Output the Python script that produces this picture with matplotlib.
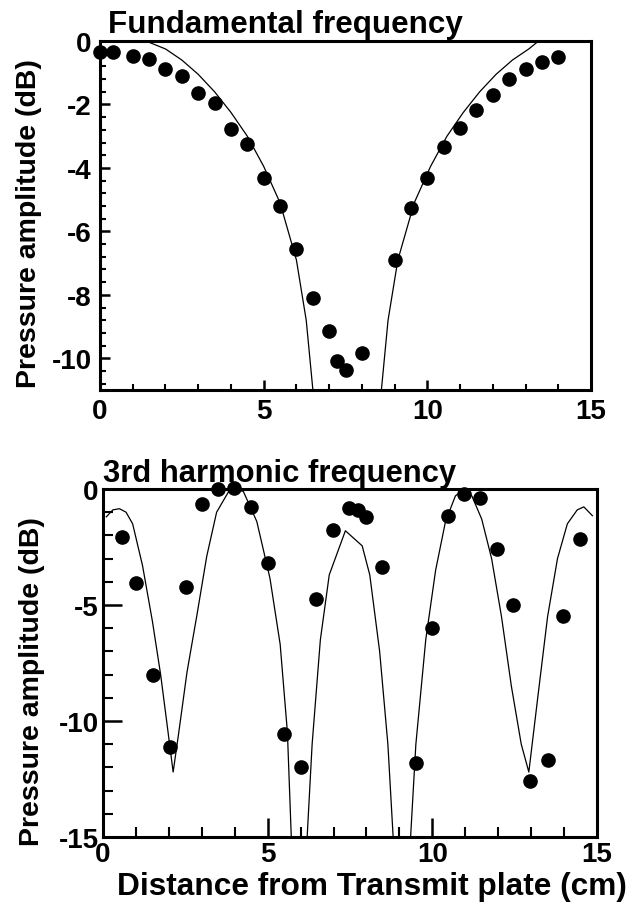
# Fundamental / 3rd harmonic pressure amplitude vs distance

import numpy as np
import matplotlib.pyplot as plt
from matplotlib.ticker import MultipleLocator

plt.rcParams['font.family'] = ['Liberation Sans', 'DejaVu Sans']
plt.rcParams['font.weight'] = 'bold'
plt.rcParams['axes.unicode_minus'] = False

# measured points, fundamental
x_fund = [0, 0.4, 1.0, 1.5, 2.0, 2.5, 3.0, 3.5, 4.0, 4.5, 5.0, 5.5, 6.0, 6.5, 7.0, 7.25, 7.5, 8.0,
          9.0, 9.5, 10.0, 10.5, 11.0, 11.5, 12.0, 12.5, 13.0, 13.5, 14.0]
y_fund = [-0.35, -0.35, -0.47, -0.57, -0.89, -1.1, -1.65, -1.96, -2.78, -3.26, -4.33, -5.19, -6.55,
          -8.1, -9.15, -10.1, -10.38, -9.84, -6.9, -5.25, -4.33, -3.35, -2.75, -2.18, -1.71, -1.2,
          -0.89, -0.66, -0.5]
# theory curve, fundamental
xt_fund = [0, 1.4, 2.0, 2.5, 3.0, 3.5, 4.0, 4.5, 5.0, 5.5, 6.0, 6.3, 6.55, np.nan,
           8.55, 8.8, 9.1, 9.6, 10.1, 10.6, 11.1, 11.6, 12.1, 12.6, 13.1, 13.4, 15]
yt_fund = [0, 0, -0.25, -0.6, -1.05, -1.6, -2.25, -3.0, -3.95, -5.1, -6.9, -8.8, -11.5, np.nan,
           -11.5, -8.8, -6.9, -5.1, -3.95, -3.0, -2.25, -1.6, -1.05, -0.6, -0.25, 0, 0]

# measured points, 3rd harmonic
x_harm = [0.58, 1.0, 1.52, 2.02, 2.52, 3.0, 3.48, 3.98, 4.5, 5.0, 5.5, 6.02, 6.47, 6.97, 7.48, 7.74,
          7.99, 8.48, 9.51, 9.99, 10.48, 10.97, 11.46, 11.97, 12.46, 12.98, 13.5, 13.98, 14.47]
y_harm = [-2.06, -4.05, -8.0, -11.1, -4.22, -0.65, 0.02, 0.05, -0.77, -3.2, -10.56, -11.97, -4.75,
          -1.76, -0.82, -0.92, -1.2, -3.35, -11.8, -5.97, -1.15, -0.23, -0.37, -2.6, -5.0, -12.6,
          -11.7, -5.47, -2.15]
# theory curve, 3rd harmonic
xt_harm = [0.1, 0.3, 0.5, 0.7, 0.9, 1.2, 1.5, 1.75, 1.95, 2.13, 2.3, 2.55, 2.85, 3.15, 3.45, 3.86,
           4.26, 4.67, 5.07, 5.38, 5.6, 5.73, np.nan, 6.18, 6.35, 6.6, 6.87, 7.36, 7.87, 8.1, 8.4,
           8.65, 8.83, np.nan, 9.32, 9.5, 9.8, 10.1, 10.4, 10.7, 10.95, 11.2, 11.5, 11.8, 12.1,
           12.4, 12.7, 12.93, 13.2, 13.5, 13.8, 14.1, 14.4, 14.6, 14.86]
yt_harm = [-1.2, -0.9, -0.85, -1.0, -1.5, -3.3, -5.7, -8.0, -10.2, -12.2, -10.5, -7.9, -5.45,
           -2.9, -1.0, 0.0, -0.1, -1.4, -3.85, -6.7, -10.5, -15.5, np.nan, -15.5, -11.0, -6.5,
           -3.7, -1.8, -2.45, -3.7, -7.0, -11.0, -15.5, np.nan, -15.5, -11.0, -6.5, -3.5, -1.4,
           -0.3, 0.0, -0.3, -1.3, -3.0, -5.5, -8.5, -11.0, -12.2, -9.0, -5.5, -3.0, -1.5, -0.9,
           -0.77, -1.15]

fig = plt.figure(figsize=(6.37, 9.03), dpi=100)
ax1 = fig.add_axes([100/637, 1-391/903, 491/637, 349/903])
ax2 = fig.add_axes([103/637, 1-838/903, 494/637, 348/903])

for ax in (ax1, ax2):
    for s in ax.spines.values():
        s.set_linewidth(2.2)
    ax.tick_params(direction='in', labelsize=20, width=1.8, top=False, right=False)
    ax.tick_params(which='minor', direction='in', width=1.5, top=False, right=False)
    ax.set_xlim(0, 15)
    ax.xaxis.set_major_locator(MultipleLocator(5))
    ax.xaxis.set_minor_locator(MultipleLocator(1))

ax1.plot(xt_fund, yt_fund, color='black', lw=0.9, clip_on=True)
ax1.plot(x_fund, y_fund, 'o', color='black', ms=9.5, clip_on=False)
ax1.set_ylim(-11, 0)
ax1.yaxis.set_major_locator(MultipleLocator(2))
ax1.yaxis.set_minor_locator(MultipleLocator(0.4))
ax1.tick_params(which='major', length=7, pad=6)
ax1.tick_params(which='minor', length=4)
ax1.set_ylabel('Pressure amplitude (dB)', fontsize=20.5, fontweight='bold')
ax1.yaxis.set_label_coords(-0.118, 0.48)
ax1.text(0.017, 1.025, 'Fundamental frequency', transform=ax1.transAxes, fontsize=22.6,
         fontweight='bold', va='baseline', ha='left')

ax2.plot(xt_harm, yt_harm, color='black', lw=0.9, clip_on=True)
ax2.plot(x_harm, y_harm, 'o', color='black', ms=9.5, clip_on=False)
ax2.set_ylim(-15, 0)
ax2.yaxis.set_major_locator(MultipleLocator(5))
ax2.yaxis.set_minor_locator(MultipleLocator(1))
ax2.tick_params(which='major', length=14, pad=3)
ax2.tick_params(which='minor', length=7)
ax2.set_ylabel('Pressure amplitude (dB)', fontsize=20.5, fontweight='bold')
ax2.yaxis.set_label_coords(-0.118, 0.45)
ax2.set_xlabel('Distance from Transmit plate (cm)', fontsize=22.8, fontweight='bold')
ax2.xaxis.set_label_coords(0.545, -0.098)
ax2.text(0.0, 1.022, '3rd harmonic frequency', transform=ax2.transAxes, fontsize=22.3,
         fontweight='bold', va='baseline', ha='left')

fig.savefig('out.png', dpi=100)
